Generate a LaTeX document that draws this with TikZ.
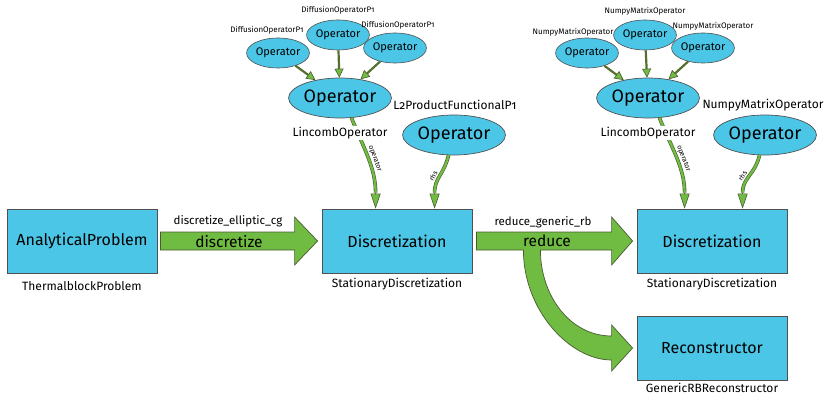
\documentclass[tikz,border=0pt]{standalone}
\usepackage{fontspec}
\setmainfont{Fira Sans}[Numbers=OldStyle]
\usetikzlibrary{arrows.meta,calc,shapes.geometric}
\definecolor{boxblue}{HTML}{4CC6E6}
\definecolor{agreen}{HTML}{70BC42}
\definecolor{adark}{HTML}{4A5A32}
\definecolor{sline}{HTML}{566F2E}
\definecolor{bdark}{HTML}{505050}
\tikzset{
  box/.style={draw=bdark, line width=0.8pt, fill=boxblue, minimum width=150pt, minimum height=64pt, inner sep=0pt, font=\fontsize{16}{19}\selectfont},
  bigop/.style={ellipse, draw=bdark, line width=0.7pt, fill=boxblue, minimum width=74pt, minimum height=40pt, inner sep=0pt, font=\fontsize{18}{21}\selectfont},
  rop/.style={bigop, minimum width=68pt},
  smallop/.style={ellipse, draw=bdark, line width=0.6pt, fill=boxblue, minimum width=48pt, minimum height=30pt, inner sep=0pt, font=\fontsize{11}{13}\selectfont},
  lab/.style={font=\fontsize{12}{14}\selectfont, inner sep=1pt},
  tinylab/.style={font=\fontsize{8}{9}\selectfont, inner sep=1pt},
  curvelab/.style={font=\fontsize{7}{8}\selectfont, inner sep=2.5pt},
  dbl/.style={draw=adark, double=agreen, double distance=2.4pt, line width=0.6pt},
  tipst/.style={draw=adark, line width=0.6pt, -{Triangle[length=15pt,width=10pt,fill=agreen]}},
  sarrow/.style={draw=sline, line width=2.2pt, -{Triangle[length=9pt,width=9pt,line width=0.6pt,color=adark,fill=agreen]}},
  bigarrow/.style={draw=adark, line width=0.7pt, fill=agreen, line join=miter},
}
\begin{document}
\begin{tikzpicture}[x=1pt,y=-1pt]
\useasboundingbox (0,0) rectangle (826,395);

% main boxes
\node[box] (ap) at (82,241) {AnalyticalProblem};
\node[box] (d1) at (397,241) {Discretization};
\node[box] (d2) at (712,241) {Discretization};
\node[box] (rec) at (712,348) {Reconstructor};
\node[lab] (apl) at (82,286) {ThermalblockProblem};
\node[lab] (d1l) at (397,284) {StationaryDiscretization};
\node[lab] (d2l) at (712,284) {StationaryDiscretization};
\node[lab] (recl) at (712,388) {GenericRBReconstructor};

% left operator group
\node[bigop] (lop1) at (340,98) {Operator};
\node[smallop] (sa1) at (278,53) {Operator};
\node[smallop] (sa2) at (338,35) {Operator};
\node[smallop] (sa3) at (395,48) {Operator};
\node[tinylab] at (267,30) {DiffusionOperatorP1};
\node[tinylab] at (338,10) {DiffusionOperatorP1};
\node[tinylab] at (398,25) {DiffusionOperatorP1};
\draw[sarrow] (sa1) -- (lop1);
\draw[sarrow] (sa2) -- (lop1);
\draw[sarrow] (sa3) -- (lop1);
\node[rop] (r1) at (454,135) {Operator};
\node[lab] at (455,105) {L2ProductFunctionalP1};

% right operator group
\node[bigop] (lop2) at (648,98) {Operator};
\node[smallop] (sb1) at (587,53) {Operator};
\node[smallop] (sb2) at (645,35) {Operator};
\node[smallop] (sb3) at (703,48) {Operator};
\node[tinylab] at (573,32) {NumpyMatrixOperator};
\node[tinylab] at (645,11) {NumpyMatrixOperator};
\node[tinylab] at (713,26) {NumpyMatrixOperator};
\draw[sarrow] (sb1) -- (lop2);
\draw[sarrow] (sb2) -- (lop2);
\draw[sarrow] (sb3) -- (lop2);
\node[rop] (r2) at (765,135) {Operator};
\node[lab] at (763,105) {NumpyMatrixOperator};

% operator / rhs arrows (left)
\draw[dbl] (lop1.-60) .. controls +(12,30) and +(0,-25) .. node[pos=0.55, sloped, above, curvelab] {operator} ($(d1.north west)+(54,-16)$);
\draw[tipst] ($(d1.north west)+(54,-16)$) -- ($(d1.north west)+(54,0)$);
\draw[dbl] (r1.-105) .. controls +(-5,20) and +(0,-15) .. node[pos=0.6, sloped, above, curvelab] {rhs} ($(d1.north west)+(113,-16)$);
\draw[tipst] ($(d1.north west)+(113,-16)$) -- ($(d1.north west)+(113,0)$);
\node[lab, fill=white] at (340,133) {LincombOperator};

% operator / rhs arrows (right)
\draw[dbl] (lop2.-60) .. controls +(12,30) and +(0,-25) .. node[pos=0.55, sloped, above, curvelab] {operator} ($(d2.north west)+(48,-16)$);
\draw[tipst] ($(d2.north west)+(48,-16)$) -- ($(d2.north west)+(48,0)$);
\draw[dbl] (r2.-105) .. controls +(-5,20) and +(0,-15) .. node[pos=0.6, sloped, above, curvelab] {rhs} ($(d2.north west)+(106,-16)$);
\draw[tipst] ($(d2.north west)+(106,-16)$) -- ($(d2.north west)+(106,0)$);
\node[lab, fill=white] at (648,133) {LincombOperator};

% discretize block arrow
\draw[bigarrow] ($(ap.east)+(3,-9)$) -- ($(d1.west)+(-27,-9)$) -- ($(d1.west)+(-27,-24)$) -- ($(d1.west)+(-4,0)$) -- ($(d1.west)+(-27,24)$) -- ($(d1.west)+(-27,9)$) -- ($(ap.east)+(3,9)$) -- cycle;
\node[lab, font=\fontsize{11.5}{13}\selectfont] at (228,221) {discretize\_elliptic\_cg};
\node[lab, font=\fontsize{15.5}{17}\selectfont] at (229,242) {discretize};

% reduce block arrow
\draw[bigarrow] ($(d1.east)+(4,-9)$) -- ($(d2.west)+(-25,-9)$) -- ($(d2.west)+(-25,-24)$) -- ($(d2.west)+(-4,0)$) -- ($(d2.west)+(-25,24)$) -- ($(d2.west)+(-25,9)$) -- ($(d1.east)+(4,9)$) -- cycle;
\fill[agreen] ($(d1.east)+(51,6)$) -- ($(d1.east)+(51,9)$) .. controls ($(d1.east)+(51,69)$) and ($(rec.west)+(-67,12)$) .. ($(rec.west)+(-25,12)$) -- ($(rec.west)+(-25,23)$) -- ($(rec.west)+(-4,0)$) -- ($(rec.west)+(-25,-23)$) -- ($(rec.west)+(-25,-12)$) .. controls ($(rec.west)+(-67,-12)$) and ($(d1.east)+(68,54)$) .. ($(d1.east)+(68,9)$) -- ($(d1.east)+(68,6)$) -- cycle;
\draw[draw=adark, line width=0.7pt, line join=miter] ($(d1.east)+(51,9)$) .. controls ($(d1.east)+(51,69)$) and ($(rec.west)+(-67,12)$) .. ($(rec.west)+(-25,12)$) -- ($(rec.west)+(-25,23)$) -- ($(rec.west)+(-4,0)$) -- ($(rec.west)+(-25,-23)$) -- ($(rec.west)+(-25,-12)$) .. controls ($(rec.west)+(-67,-12)$) and ($(d1.east)+(68,54)$) .. ($(d1.east)+(68,9)$);
\node[lab, font=\fontsize{11.5}{13}\selectfont] at (543,222) {reduce\_generic\_rb};
\node[lab, font=\fontsize{15.5}{17}\selectfont] at (547,241) {reduce};
\end{tikzpicture}
\end{document}
